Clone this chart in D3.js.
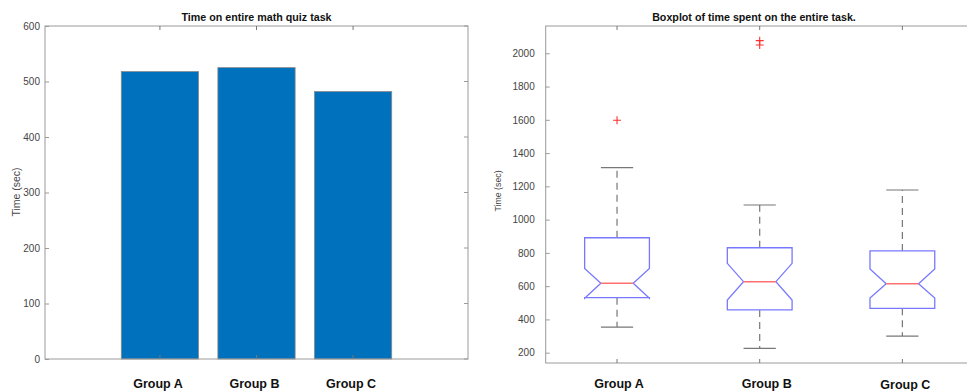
<!DOCTYPE html>
<html>
<head>
<meta charset="utf-8">
<script src="https://cdn.jsdelivr.net/npm/d3@7"></script>
<style>
  body { margin: 0; background: #fff; }
  svg { display: block; font-family: "Liberation Sans", Arial, sans-serif; }
</style>
</head>
<body>
<div id="chart"></div>
<script>
// data
var categories = ["Group A", "Group B", "Group C"];
var meanTimes = [518, 525, 482];
var barTicks = [0, 100, 200, 300, 400, 500, 600];

var boxQ1 = [531, 457, 467];
var boxMedian = [617, 627, 615];
var boxQ3 = [891, 831, 812];
var notchLo = [527, 517, 528];
var notchHi = [707, 737, 703];
var whiskerLo = [354, 226, 300];
var whiskerHi = [1312, 1088, 1178];
var outliers = [[1597], [2076, 2050], []];
var boxTicks = [200, 400, 600, 800, 1000, 1200, 1400, 1600, 1800, 2000];

function init(){
    var w = 967;
    var h = 391;
    var axisColor = "#9a9a9a";
    var textColor = "#444";

    var svg = d3.select("#chart")
                .append("svg")
                .attr("width", w)
                .attr("height", h);

    // ---------- left: bar chart ----------
    var bx = d3.scaleLinear()
                .domain([-0.19, 4.19])
                .range([45, 468]);
    var by = d3.scaleLinear()
                .domain([0, 600])
                .range([359, 26]);

    var left = svg.append("g");

    left.selectAll("rect.bar")
        .data(meanTimes)
        .enter()
        .append("rect")
        .attr("class", "bar")
        .attr("x", function(d, i){ return bx(i + 1 - 0.4); })
        .attr("y", function(d){ return by(d); })
        .attr("width", function(){ return bx(0.8) - bx(0); })
        .attr("height", function(d){ return by(0) - by(d); })
        .attr("fill", "#0072BD")
        .attr("stroke", "#8a8a8a")
        .attr("stroke-width", 0.8);

    // box frame
    left.append("rect")
        .attr("x", bx.range()[0])
        .attr("y", by.range()[1])
        .attr("width", bx.range()[1] - bx.range()[0])
        .attr("height", by.range()[0] - by.range()[1])
        .attr("fill", "none")
        .attr("stroke", axisColor)
        .attr("stroke-width", 1);

    // y axis (ticks pointing inward)
    var leftY = left.append("g")
        .attr("transform", "translate(" + bx.range()[0] + ",0)")
        .call(d3.axisLeft(by).tickValues(barTicks).tickSize(-4).tickPadding(5));
    leftY.select(".domain").remove();
    leftY.selectAll("line").attr("stroke", axisColor);
    leftY.selectAll("text").attr("fill", textColor).attr("font-size", "10px")
        .attr("font-family", "Liberation Sans, Arial, sans-serif");

    // mirrored ticks on the right side
    left.selectAll("line.rtick")
        .data(barTicks)
        .enter()
        .append("line")
        .attr("x1", bx.range()[1])
        .attr("x2", bx.range()[1] - 4)
        .attr("y1", function(d){ return by(d); })
        .attr("y2", function(d){ return by(d); })
        .attr("stroke", axisColor);

    // x ticks bottom and top
    [by.range()[0], by.range()[1]].forEach(function(yy, k){
        left.selectAll("line.xt" + k)
            .data(categories)
            .enter()
            .append("line")
            .attr("x1", function(d, i){ return bx(i + 1); })
            .attr("x2", function(d, i){ return bx(i + 1); })
            .attr("y1", yy)
            .attr("y2", k === 0 ? yy - 4 : yy + 4)
            .attr("stroke", "#777");
    });

    left.selectAll("text.cat")
        .data(categories)
        .enter()
        .append("text")
        .attr("x", function(d, i){ return bx(i + 1) - 2; })
        .attr("y", 388)
        .attr("text-anchor", "middle")
        .attr("font-size", "12.5px")
        .attr("font-weight", "bold")
        .attr("fill", "#111")
        .text(function(d){ return d; });

    left.append("text")
        .attr("x", (bx.range()[0] + bx.range()[1]) / 2)
        .attr("y", 21)
        .attr("text-anchor", "middle")
        .attr("font-size", "10.7px")
        .attr("font-weight", "bold")
        .attr("fill", "#111")
        .text("Time on entire math quiz task");

    left.append("text")
        .attr("transform", "translate(20,192) rotate(-90)")
        .attr("text-anchor", "middle")
        .attr("font-size", "10.5px")
        .attr("fill", textColor)
        .text("Time (sec)");

    // ---------- right: boxplot ----------
    var px = d3.scaleLinear()
                .domain([0.5, 3.5])
                .range([545.7, 973.7]);
    var py = d3.scaleLinear()
                .domain([138, 2164])
                .range([363, 26]);

    var right = svg.append("g");

    right.append("rect")
        .attr("x", px.range()[0])
        .attr("y", py.range()[1])
        .attr("width", px.range()[1] - px.range()[0])
        .attr("height", py.range()[0] - py.range()[1])
        .attr("fill", "none")
        .attr("stroke", axisColor)
        .attr("stroke-width", 1);

    var rightY = right.append("g")
        .attr("transform", "translate(" + px.range()[0] + ",0)")
        .call(d3.axisLeft(py).tickValues(boxTicks).tickSize(-4).tickPadding(11).tickFormat(d3.format("d")));
    rightY.select(".domain").remove();
    rightY.selectAll("line").attr("stroke", axisColor);
    rightY.selectAll("text").attr("fill", textColor).attr("font-size", "10px")
        .attr("font-family", "Liberation Sans, Arial, sans-serif");

    [py.range()[0], py.range()[1]].forEach(function(yy, k){
        right.selectAll("line.xt" + k)
            .data(categories)
            .enter()
            .append("line")
            .attr("x1", function(d, i){ return px(i + 1); })
            .attr("x2", function(d, i){ return px(i + 1); })
            .attr("y1", yy)
            .attr("y2", k === 0 ? yy - 4 : yy + 4)
            .attr("stroke", "#777");
    });

    var half = 0.227;   // half box width in x units
    var inset = half / 2;
    var capHalf = 0.113;

    var boxes = right.selectAll("g.box")
        .data(categories)
        .enter()
        .append("g")
        .attr("class", "box");

    // whiskers (dashed)
    boxes.append("line")
        .attr("x1", function(d, i){ return px(i + 1); })
        .attr("x2", function(d, i){ return px(i + 1); })
        .attr("y1", function(d, i){ return py(boxQ3[i]); })
        .attr("y2", function(d, i){ return py(whiskerHi[i]); })
        .attr("stroke", "#777")
        .attr("stroke-width", 1.2)
        .attr("stroke-dasharray", "7,5");
    boxes.append("line")
        .attr("x1", function(d, i){ return px(i + 1); })
        .attr("x2", function(d, i){ return px(i + 1); })
        .attr("y1", function(d, i){ return py(boxQ1[i]); })
        .attr("y2", function(d, i){ return py(whiskerLo[i]); })
        .attr("stroke", "#777")
        .attr("stroke-width", 1.2)
        .attr("stroke-dasharray", "7,5");

    // caps
    [whiskerHi, whiskerLo].forEach(function(arr){
        boxes.append("line")
            .attr("x1", function(d, i){ return px(i + 1 - capHalf); })
            .attr("x2", function(d, i){ return px(i + 1 + capHalf); })
            .attr("y1", function(d, i){ return py(arr[i]); })
            .attr("y2", function(d, i){ return py(arr[i]); })
            .attr("stroke", "#777")
            .attr("stroke-width", 1.2);
    });

    // notched box
    boxes.append("path")
        .attr("d", function(d, i){
            var c = i + 1;
            var pts = [
                [c - half, boxQ1[i]], [c - half, notchLo[i]], [c - inset, boxMedian[i]],
                [c - half, notchHi[i]], [c - half, boxQ3[i]], [c + half, boxQ3[i]],
                [c + half, notchHi[i]], [c + inset, boxMedian[i]], [c + half, notchLo[i]],
                [c + half, boxQ1[i]]
            ];
            return d3.line()
                .x(function(p){ return px(p[0]); })
                .y(function(p){ return py(p[1]); })(pts) + "Z";
        })
        .attr("fill", "none")
        .attr("stroke", "#7878ff")
        .attr("stroke-width", 1.3);

    // median
    boxes.append("line")
        .attr("x1", function(d, i){ return px(i + 1 - inset); })
        .attr("x2", function(d, i){ return px(i + 1 + inset); })
        .attr("y1", function(d, i){ return py(boxMedian[i]); })
        .attr("y2", function(d, i){ return py(boxMedian[i]); })
        .attr("stroke", "#ff7070")
        .attr("stroke-width", 1.5);

    // outliers as "+"
    var outPts = [];
    outliers.forEach(function(arr, i){
        arr.forEach(function(v){ outPts.push({ c: i + 1, v: v }); });
    });
    right.selectAll("path.out")
        .data(outPts)
        .enter()
        .append("path")
        .attr("d", function(p){
            var x = px(p.c), y = py(p.v), s = 4;
            return "M" + (x - s) + "," + y + "H" + (x + s) + "M" + x + "," + (y - s) + "V" + (y + s);
        })
        .attr("stroke", "#ff3030")
        .attr("stroke-width", 1.1);

    var catOffsets = [[2, 0], [7, 0], [3, 1]];
    right.selectAll("text.cat")
        .data(categories)
        .enter()
        .append("text")
        .attr("x", function(d, i){ return px(i + 1) + catOffsets[i][0]; })
        .attr("y", function(d, i){ return 388 + catOffsets[i][1]; })
        .attr("text-anchor", "middle")
        .attr("font-size", "12.5px")
        .attr("font-weight", "bold")
        .attr("fill", "#111")
        .text(function(d){ return d; });

    right.append("text")
        .attr("x", 754)
        .attr("y", 21)
        .attr("text-anchor", "middle")
        .attr("font-size", "10.7px")
        .attr("font-weight", "bold")
        .attr("fill", "#111")
        .text("Boxplot of time spent on the entire task.");

    right.append("text")
        .attr("transform", "translate(501,191) rotate(-90)")
        .attr("text-anchor", "middle")
        .attr("font-size", "8.8px")
        .attr("fill", textColor)
        .text("Time (sec)");
}

window.onload = init;
</script>
</body>
</html>
